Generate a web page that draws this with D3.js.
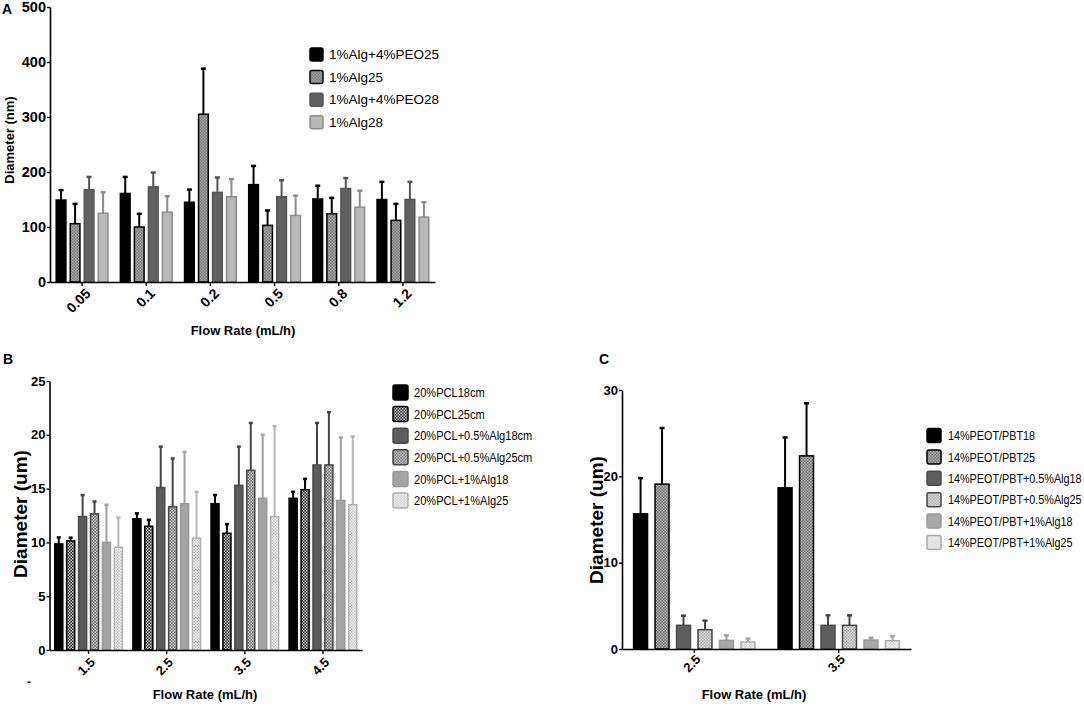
<!DOCTYPE html>
<html>
<head>
<meta charset="utf-8">
<script src="https://cdn.jsdelivr.net/npm/d3@7"></script>
<style>
  body { margin: 0; background: #fff; }
  svg { display: block; font-family: 'Liberation Sans', Arial, sans-serif; }
</style>
</head>
<body>
<svg id="chart" width="1084" height="708"></svg>
<script>
// ---- panel A data (Diameter in nm) ----
const catsA = ["0.05", "0.1", "0.2", "0.5", "0.8", "1.2"];
const seriesA = ["1%Alg+4%PEO25", "1%Alg25", "1%Alg+4%PEO28", "1%Alg28"];
const meanA = [
  [149, 161, 145, 177, 151, 150],
  [106, 100, 305, 103, 124, 112],
  [168, 173, 163, 155, 170, 150],
  [125, 127, 155, 121, 136, 118]
];
const sdA = [
  [18, 30, 23, 34, 24, 32],
  [36, 24, 83, 27, 29, 30],
  [23, 26, 27, 30, 19, 32],
  [38, 29, 32, 36, 30, 27]
];
const ticksA = [0, 100, 200, 300, 400, 500];

// ---- panel B data (Diameter in um) ----
const catsB = ["1.5", "2.5", "3.5", "4.5"];
const seriesB = ["20%PCL18cm", "20%PCL25cm", "20%PCL+0.5%Alg18cm", "20%PCL+0.5%Alg25cm", "20%PCL+1%Alg18", "20%PCL+1%Alg25"];
const meanB = [
  [9.86, 12.2, 13.6, 14.1],
  [10.14, 11.5, 10.85, 14.9],
  [12.4, 15.1, 15.3, 17.2],
  [12.65, 13.3, 16.7, 17.2],
  [10.0, 13.6, 14.1, 13.9],
  [9.55, 10.4, 12.4, 13.5]
];
const sdB = [
  [0.6, 0.5, 0.8, 0.6],
  [0.3, 0.6, 0.85, 1.0],
  [2.0, 3.8, 3.6, 3.9],
  [1.15, 4.5, 4.4, 4.9],
  [3.5, 4.8, 5.9, 5.85],
  [2.75, 4.3, 8.4, 6.35]
];
const ticksB = [0, 5, 10, 15, 20, 25];

// ---- panel C data (Diameter in um) ----
const catsC = ["2.5", "3.5"];
const seriesC = ["14%PEOT/PBT18", "14%PEOT/PBT25", "14%PEOT/PBT+0.5%Alg18", "14%PEOT/PBT+0.5%Alg25", "14%PEOT/PBT+1%Alg18", "14%PEOT/PBT+1%Alg25"];
const meanC = [
  [15.66, 18.67],
  [19.1, 22.37],
  [2.74, 2.74],
  [2.24, 2.74],
  [1.0, 1.04],
  [0.8, 0.96]
];
const sdC = [
  [4.14, 5.83],
  [6.5, 6.09],
  [1.12, 1.16],
  [1.04, 1.16],
  [0.58, 0.26],
  [0.4, 0.51]
];
const ticksC = [0, 10, 20, 30];

const svg = d3.select("#chart");
const defs = svg.append("defs");

// small checker patterns used for the "25" series
function checker(id, bg, fg) {
  const p = defs.append("pattern")
    .attr("id", id)
    .attr("patternUnits", "userSpaceOnUse")
    .attr("width", 3).attr("height", 3);
  p.append("rect").attr("width", 3).attr("height", 3).attr("fill", bg);
  p.append("rect").attr("width", 1.5).attr("height", 1.5).attr("fill", fg);
  p.append("rect").attr("x", 1.5).attr("y", 1.5).attr("width", 1.5).attr("height", 1.5).attr("fill", fg);
  return `url(#${id})`;
}

function drawPanel(cfg) {
  const g = svg.append("g");

  const y = d3.scaleLinear().domain([0, cfg.yMax]).range([cfg.bottom, cfg.top]);
  const x0 = d3.scaleBand().domain(cfg.cats).range([cfg.left, cfg.right]).padding(0);
  const gw = x0.bandwidth() * cfg.groupFrac;
  const x1 = d3.scaleBand().domain(d3.range(cfg.series.length))
    .range([-gw / 2, gw / 2]).paddingInner(cfg.barPad);

  // bars + error bars
  cfg.series.forEach((s, i) => {
    const rows = cfg.cats.map((c, j) => ({ cat: c, mean: cfg.means[i][j], sd: cfg.sds[i][j] }));
    const sg = g.append("g");
    const cx = d => x0(d.cat) + x0.bandwidth() / 2 + x1(i) + x1.bandwidth() / 2;

    sg.selectAll(".err").data(rows).join("line")
      .attr("x1", cx).attr("x2", cx)
      .attr("y1", d => y(d.mean)).attr("y2", d => y(d.mean + d.sd))
      .attr("stroke", cfg.errColors[i]).attr("stroke-width", 2);
    sg.selectAll(".cap").data(rows).join("line")
      .attr("x1", d => cx(d) - cfg.capW / 2).attr("x2", d => cx(d) + cfg.capW / 2)
      .attr("y1", d => y(d.mean + d.sd)).attr("y2", d => y(d.mean + d.sd))
      .attr("stroke", cfg.errColors[i]).attr("stroke-width", 2.5);

    sg.selectAll("rect").data(rows).join("rect")
      .attr("x", d => cx(d) - x1.bandwidth() / 2 + 0.75)
      .attr("width", x1.bandwidth() - 1.5)
      .attr("y", d => y(d.mean))
      .attr("height", d => cfg.bottom - y(d.mean))
      .attr("fill", cfg.fills[i])
      .attr("stroke", cfg.strokes[i])
      .attr("stroke-width", 1.5);
  });

  // y axis
  const ya = g.append("g")
    .attr("transform", `translate(${cfg.left},0)`)
    .call(d3.axisLeft(y).tickValues(cfg.yTicks).tickSize(3).tickPadding(1).tickSizeOuter(0));
  ya.select(".domain").attr("stroke-width", 1.6);
  ya.selectAll(".tick line").attr("stroke-width", 1.4);
  ya.selectAll("text")
    .attr("font-size", cfg.yTickSize).attr("font-weight", "bold")
    .attr("font-family", "'Liberation Sans', Arial, sans-serif").attr("fill", "#000");

  // x axis
  const xa = g.append("g")
    .attr("transform", `translate(0,${cfg.bottom})`)
    .call(d3.axisBottom(x0).tickSize(4).tickSizeOuter(0));
  xa.select(".domain").attr("stroke-width", 1.6);
  xa.selectAll(".tick line").attr("stroke-width", 1.4);
  xa.selectAll("text")
    .attr("font-size", cfg.xTickSize).attr("font-weight", "bold")
    .attr("font-family", "'Liberation Sans', Arial, sans-serif").attr("fill", "#000")
    .attr("text-anchor", "end")
    .attr("x", 0).attr("y", 0).attr("dy", "0.35em")
    .attr("transform", `translate(${cfg.xTickDx},${cfg.xTickDy}) rotate(-45)`);

  // titles
  g.append("text")
    .attr("x", cfg.xTitle[0]).attr("y", cfg.xTitle[1])
    .attr("text-anchor", "middle").attr("font-weight", "bold")
    .attr("font-size", 13).text("Flow Rate (mL/h)");
  g.append("text")
    .attr("transform", `translate(${cfg.yTitle[0]},${cfg.yTitle[1]}) rotate(-90)`)
    .attr("text-anchor", "middle").attr("font-weight", "bold")
    .attr("font-size", cfg.yTitleSize).text(cfg.yLabel);
  g.append("text")
    .attr("x", cfg.tag[0]).attr("y", cfg.tag[1])
    .attr("font-weight", "bold").attr("font-size", 14).text(cfg.tagText);

  // legend
  const lg = g.append("g")
    .attr("transform", `translate(${cfg.legend[0]},${cfg.legend[1]})`);
  const item = lg.selectAll("g").data(cfg.series).join("g")
    .attr("transform", (d, i) => `translate(0,${i * cfg.legend[2]})`);
  item.append("rect")
    .attr("x", 0).attr("y", -cfg.sw / 2)
    .attr("width", cfg.sw).attr("height", cfg.sw).attr("rx", 2)
    .attr("fill", (d, i) => cfg.fills[i])
    .attr("stroke", (d, i) => cfg.strokes[i]).attr("stroke-width", 1.5);
  // the source legends use a condensed face, so squeeze horizontally
  item.append("text")
    .attr("transform", `translate(${cfg.sw + cfg.legendGap},0) scale(${cfg.legendSqueeze},1)`)
    .attr("dy", "0.35em")
    .attr("font-size", cfg.legendSize).text(d => d);
}

drawPanel({
  cats: catsA, series: seriesA, means: meanA, sds: sdA,
  yMax: 500, yTicks: ticksA,
  left: 50, right: 435, top: 7, bottom: 282,
  groupFrac: 0.83, barPad: 0.2, capW: 5,
  fills: ["#000", checker("pA2", "#7c7c7c", "#a4a4a4"), "#616161", "#b9b9b9"],
  strokes: ["#000", "#000", "#555", "#8c8c8c"],
  errColors: ["#000", "#000", "#555", "#8c8c8c"],
  yTickSize: 14.5, xTickSize: 14, xTickDx: 6, xTickDy: 9,
  xTitle: [243, 335], yTitle: [14, 140], yTitleSize: 13, yLabel: "Diameter (nm)",
  tag: [2, 14], tagText: "A",
  legend: [310, 54.5, 22.6], sw: 13, legendGap: 6, legendSize: 13.5, legendSqueeze: 1
});

drawPanel({
  cats: catsB, series: seriesB, means: meanB, sds: sdB,
  yMax: 25, yTicks: ticksB,
  left: 49.5, right: 362, top: 381, bottom: 650,
  groupFrac: 0.885, barPad: 0.2, capW: 4,
  fills: ["#000", checker("pB2", "#2a2a2a", "#c8c8c8"), "#5c5c5c", checker("pB4", "#6e6e6e", "#cfcfcf"), "#a3a3a3", checker("pB6", "#c9c9c9", "#f4f4f4")],
  strokes: ["#000", "#000", "#4a4a4a", "#444", "#999", "#b0b0b0"],
  errColors: ["#000", "#000", "#444", "#444", "#a0a0a0", "#b5b5b5"],
  yTickSize: 13, xTickSize: 13, xTickDx: 4, xTickDy: 10,
  xTitle: [205, 699], yTitle: [27, 514], yTitleSize: 19, yLabel: "Diameter (um)",
  tag: [3, 364], tagText: "B",
  legend: [393, 392.5, 21.6], sw: 15, legendGap: 6, legendSize: 13.5, legendSqueeze: 0.82
});

drawPanel({
  cats: catsC, series: seriesC, means: meanC, sds: sdC,
  yMax: 30, yTicks: ticksC,
  left: 622, right: 911, top: 390, bottom: 649,
  groupFrac: 0.85, barPad: 0.28, capW: 5,
  fills: ["#000", checker("pC2", "#6f6f6f", "#b4b4b4"), "#5e5e5e", checker("pC4", "#a8a8a8", "#e2e2e2"), "#a8a8a8", checker("pC6", "#d2d2d2", "#f6f6f6")],
  strokes: ["#000", "#000", "#4a4a4a", "#444", "#9a9a9a", "#aaa"],
  errColors: ["#000", "#000", "#444", "#444", "#a0a0a0", "#a8a8a8"],
  yTickSize: 13, xTickSize: 13, xTickDx: 4, xTickDy: 8,
  xTitle: [754, 699], yTitle: [603, 520], yTitleSize: 19, yLabel: "Diameter (um)",
  tag: [599, 364], tagText: "C",
  legend: [927, 435.5, 21.4], sw: 14, legendGap: 7, legendSize: 13.5, legendSqueeze: 0.8
});

// stray dash printed under panel B in the source figure
svg.append("text").attr("x", 27).attr("y", 686)
  .attr("font-size", 12).attr("font-weight", "bold").text("-");
</script>
</body>
</html>
